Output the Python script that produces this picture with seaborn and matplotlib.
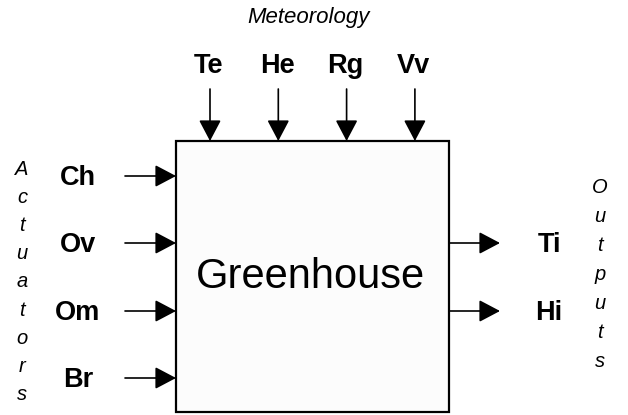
import matplotlib
matplotlib.use("Agg")
import matplotlib.pyplot as plt
import seaborn as sns
from matplotlib.patches import Rectangle

# Block diagram content
title_block = "Greenhouse"
meteo_title = "Meteorology"
meteo_inputs = ["Te", "He", "Rg", "Vv"]
actuator_title = "Actuators"
actuator_inputs = ["Ch", "Ov", "Om", "Br"]
output_title = "Outputs"
outputs = ["Ti", "Hi"]

sns.set_theme(style="white")
plt.rcParams["font.family"] = ["Liberation Sans", "DejaVu Sans"]
plt.rcParams["text.color"] = "black"

fig = plt.figure(figsize=(6.28, 4.15), dpi=100)
ax = fig.add_axes([0, 0, 1, 1])
ax.set_xlim(0, 628)
ax.set_ylim(415, 0)
ax.axis("off")

# main box (pixel coordinates)
bx0, by0, bx1, by1 = 176, 141, 449, 412
ax.add_patch(Rectangle((bx0, by0), bx1 - bx0, by1 - by0, facecolor="#fcfcfc",
                       edgecolor="black", linewidth=1.6, zorder=1))
ax.text((bx0 + bx1) / 2 - 2, 288, title_block, fontsize=30, ha="center", va="baseline")

arrow = dict(arrowstyle="-|>,head_length=0.72,head_width=0.38", color="black",
             lw=1.2, mutation_scale=18, shrinkA=0, shrinkB=0)

# meteorology inputs on top
ax.text(308, 23, meteo_title, fontsize=16, style="italic", ha="center", va="baseline")
for i, lab in enumerate(meteo_inputs):
    x = 210 + i * 68.3
    ax.text(x - 1, 73, lab, fontsize=19.5, fontweight="bold", ha="center", va="baseline")
    ax.annotate("", xy=(x, by0), xytext=(x, 89), arrowprops=arrow)

# actuators on the left
y_act = [176, 243, 311, 378]
for lab, y in zip(actuator_inputs, y_act):
    ax.text(78, y + 9, lab, fontsize=19.5, fontweight="bold", ha="center", va="baseline")
    ax.annotate("", xy=(bx0, y), xytext=(125, y), arrowprops=arrow)
for i, ch in enumerate(actuator_title):
    ax.text(22, 175 + i * 28.1, ch, fontsize=14.5, style="italic", ha="center", va="baseline")

# outputs on the right
y_out = [243, 311]
for lab, y in zip(outputs, y_out):
    ax.text(549, y + 9, lab, fontsize=19.5, fontweight="bold", ha="center", va="baseline")
    ax.annotate("", xy=(500, y), xytext=(bx1, y), arrowprops=arrow)
for i, ch in enumerate(output_title):
    ax.text(600, 193 + i * 29, ch, fontsize=14.5, style="italic", ha="center", va="baseline")

fig.savefig("out.png", dpi=100, facecolor="white")
